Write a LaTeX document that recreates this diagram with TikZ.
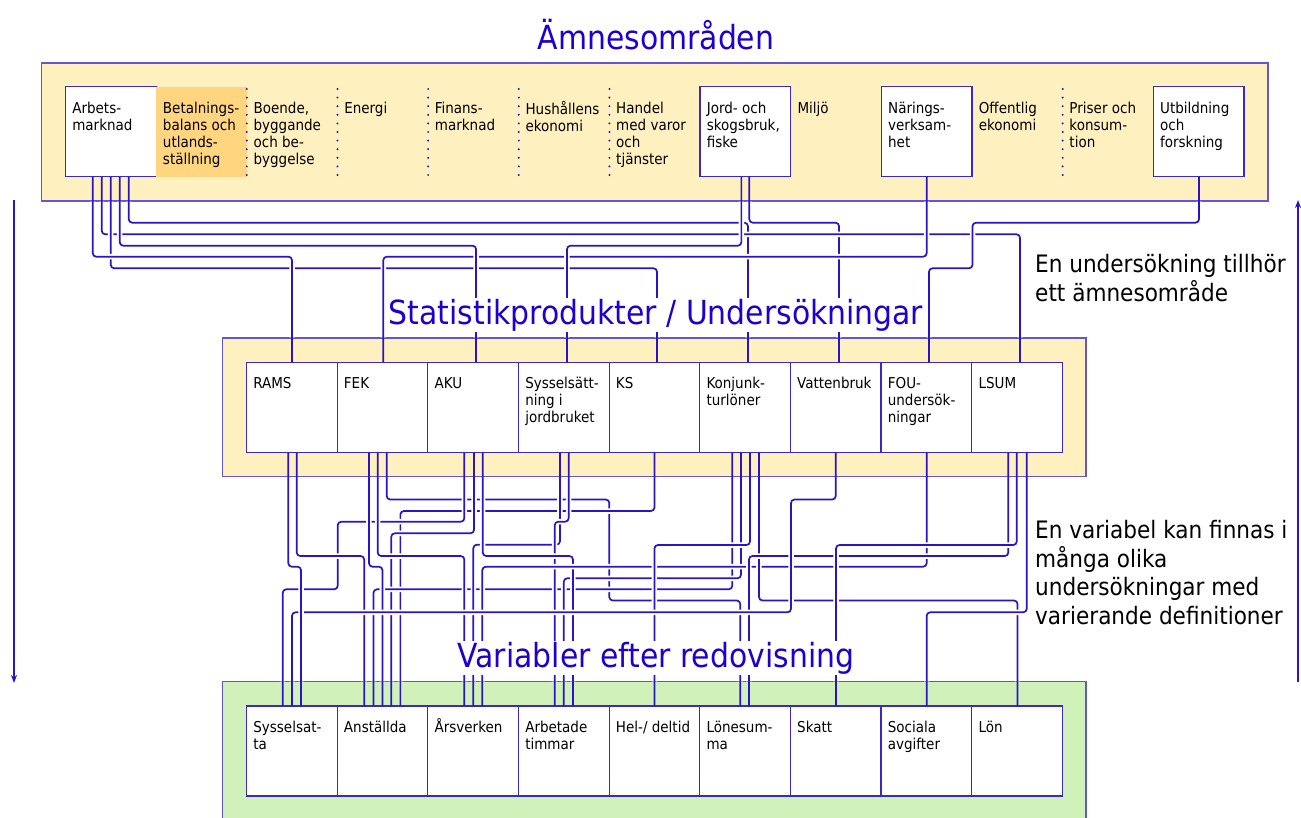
\documentclass[tikz,border=0pt]{standalone}
\usepackage{fontspec}
\setmainfont{DejaVu Sans Condensed}
\usetikzlibrary{arrows.meta}

\definecolor{ink}{HTML}{2A14C6}
\definecolor{titleblue}{HTML}{2000CC}
\definecolor{frame}{HTML}{6454D6}
\definecolor{cellline}{HTML}{3A28CC}
\definecolor{sand}{HTML}{FFF0C0}
\definecolor{amber}{HTML}{FFD580}
\definecolor{mint}{HTML}{D0F1BA}

% text of one cell, set from the top left corner
\newcommand\celltext[1]{\parbox[c][60.8pt][t]{77pt}{\raggedright\hyphenpenalty=10000\exhyphenpenalty=10000\strut#1}}

% a connector: white halo (only in the open gaps between the bands), then the line
\newcommand\wire[1]{%
  \begin{scope}
    \clip (0,201.6) rectangle (1301,337.4) (0,477.3) rectangle (1301,681.4);
    \path[halo] #1;
  \end{scope}
  \path[wire] #1;}

\begin{document}
\begin{tikzpicture}[x=1pt,y=-1pt,
  cell/.style={rectangle, inner sep=0pt, outer sep=0pt, minimum width=90.65pt,
    minimum height=90pt, anchor=north west, font=\fontsize{15}{17}\selectfont},
  boxcell/.style={cell, draw=cellline, line width=1.2pt, fill=white},
  band/.style={draw=frame, line width=1.3pt},
  sep/.style={draw=ink, line width=2.2pt, line cap=round, dash pattern=on 0pt off 8.6pt},
  wire/.style={draw=ink, line width=1.7pt, rounded corners=3.5pt},
  halo/.style={draw=white, line width=5.5pt, rounded corners=3.5pt},
  title/.style={font=\fontsize{33.2}{38}\selectfont, text=titleblue, fill=white, inner xsep=0pt, inner ysep=1pt},
  note/.style={font=\fontsize{24}{28.5}\selectfont, align=left, anchor=north west, inner sep=0pt},
  flow/.style={draw=ink, line width=1.3pt, -{Stealth[length=8pt,width=6pt]}}]

\useasboundingbox (0,0) rectangle (1301,817);

% ---- bands ----
\path[band, fill=sand] (41.5,63) rectangle (1268,201);
\path[band, fill=sand] (222.7,338) rectangle (1086,476.7);
\path[band, fill=mint] (222.7,681.7) rectangle (1086,830);

% ---- subject areas ----
\node[boxcell] (arb) at (65.5,86.5) {\celltext{Arbets-\\marknad}};
\node[cell, fill=amber] (bet) at (156.15,86.5) {\celltext{Betalnings-\\balans och\\utlands-\\ställning}};
\node[cell] (boe) at (246.8,86.5) {\celltext{Boende,\\byggande\\och be-\\byggelse}};
\node[cell] (ene) at (337.45,86.5) {\celltext{Energi}};
\node[cell] (fin) at (428.1,86.5) {\celltext{Finans-\\marknad}};
\node[cell] (hus) at (518.75,86.5) {\celltext{Hushållens\\ekonomi}};
\node[cell] (han) at (609.4,86.5) {\celltext{Handel\\med varor\\och\\tjänster}};
\node[boxcell] (jor) at (700.05,86.5) {\celltext{Jord- och\\skogsbruk,\\fiske}};
\node[cell] (mil) at (790.7,86.5) {\celltext{Miljö}};
\node[boxcell] (nar) at (881.35,86.5) {\celltext{Närings-\\verksam-\\het}};
\node[cell] (off) at (972,86.5) {\celltext{Offentlig\\ekonomi}};
\node[cell] (pri) at (1062.65,86.5) {\celltext{Priser och\\konsum-\\tion}};
\node[boxcell] (utb) at (1153.3,86.5) {\celltext{Utbildning\\och\\forskning}};

\foreach \c in {bet,boe,ene,fin,hus,off}
  \path[sep] ([yshift=-2.5pt]\c.north east) -- ([yshift=1pt]\c.south east);

% ---- surveys ----
\node[boxcell] (rams) at (246.5,362.3) {\celltext{RAMS}};
\node[boxcell] (fek)  at (337.15,362.3) {\celltext{FEK}};
\node[boxcell] (aku)  at (427.8,362.3) {\celltext{AKU}};
\node[boxcell] (sysj) at (518.45,362.3) {\celltext{Sysselsätt-\\ning i\\jordbruket}};
\node[boxcell] (ks)   at (609.1,362.3) {\celltext{KS}};
\node[boxcell] (konj) at (699.75,362.3) {\celltext{Konjunk-\\turlöner}};
\node[boxcell] (vatt) at (790.4,362.3) {\celltext{Vattenbruk}};
\node[boxcell] (fou)  at (881.05,362.3) {\celltext{FOU-\\undersök-\\ningar}};
\node[boxcell] (lsum) at (971.7,362.3) {\celltext{LSUM}};

% ---- variables ----
\node[boxcell] (vsys) at (246.5,706) {\celltext{Sysselsat-\\ta}};
\node[boxcell] (vans) at (337.15,706) {\celltext{Anställda}};
\node[boxcell] (vars) at (427.8,706) {\celltext{\smash{Å}rsverken}};
\node[boxcell] (varb) at (518.45,706) {\celltext{Arbetade\\timmar}};
\node[boxcell] (vhel) at (609.1,706) {\celltext{Hel-/ deltid}};
\node[boxcell] (vlsu) at (699.75,706) {\celltext{Lönesum-\\ma}};
\node[boxcell] (vska) at (790.4,706) {\celltext{Skatt}};
\node[boxcell] (vsoc) at (881.05,706) {\celltext{Sociala\\avgifter}};
\node[boxcell] (vlon) at (971.7,706) {\celltext{Lön}};

% ---- ports ----
\coordinate (am1) at ([xshift=-18.1pt]arb.south);
\coordinate (am2) at ([xshift=-9.1pt]arb.south);
\coordinate (am3) at ([xshift=-0.1pt]arb.south);
\coordinate (am4) at ([xshift=8.9pt]arb.south);
\coordinate (am5) at ([xshift=17.9pt]arb.south);
\coordinate (jo1) at ([xshift=-4pt]jor.south);
\coordinate (jo2) at ([xshift=3.9pt]jor.south);
\coordinate (nv)  at (nar.south);
\coordinate (ut)  at ([xshift=0.4pt]utb.south);

\coordinate (tRams) at ([xshift=0.2pt]rams.north);
\coordinate (tFek)  at ([xshift=0.8pt]fek.north);
\coordinate (tAku)  at ([xshift=2.9pt]aku.north);
\coordinate (tSysj) at ([xshift=3.2pt]sysj.north);
\coordinate (tKs)   at ([xshift=2.6pt]ks.north);
\coordinate (tKonj) at ([xshift=2.9pt]konj.north);
\coordinate (tVatt) at ([xshift=3.3pt]vatt.north);
\coordinate (tFou)  at ([xshift=2.6pt]fou.north);
\coordinate (tLsum) at ([xshift=3pt]lsum.north);

\coordinate (mR1) at ([xshift=-3.5pt]rams.south);
\coordinate (mR2) at ([xshift=4.9pt]rams.south);
\coordinate (mF1) at ([xshift=-13.5pt]fek.south);
\coordinate (mF2) at ([xshift=-4.8pt]fek.south);
\coordinate (mF3) at ([xshift=4.2pt]fek.south);
\coordinate (mA1) at ([xshift=-8.8pt]aku.south);
\coordinate (mA2) at ([xshift=0.9pt]aku.south);
\coordinate (mA3) at ([xshift=9.6pt]aku.south);
\coordinate (mS1) at ([xshift=-3.8pt]sysj.south);
\coordinate (mS2) at ([xshift=4.9pt]sysj.south);
\coordinate (mK)  at (ks.south);
\coordinate (mJ1) at ([xshift=-12.8pt]konj.south);
\coordinate (mJ2) at ([xshift=-4.1pt]konj.south);
\coordinate (mJ3) at ([xshift=4.9pt]konj.south);
\coordinate (mJ4) at ([xshift=13.9pt]konj.south);
\coordinate (mV)  at (vatt.south);
\coordinate (mFo) at ([xshift=0.3pt]fou.south);
\coordinate (mL1) at ([xshift=-8.7pt]lsum.south);
\coordinate (mL2) at ([xshift=-0.3pt]lsum.south);
\coordinate (mL3) at ([xshift=9.7pt]lsum.south);

\coordinate (bSys1) at ([xshift=-9.1pt]vsys.north);
\coordinate (bSys2) at ([xshift=0.2pt]vsys.north);
\coordinate (bSys3) at ([xshift=9.2pt]vsys.north);
\coordinate (bAns1) at ([xshift=-18.3pt]vans.north);
\coordinate (bAns2) at ([xshift=-9pt]vans.north);
\coordinate (bAns3) at (vans.north);
\coordinate (bAns4) at ([xshift=8.8pt]vans.north);
\coordinate (bAns5) at ([xshift=17.9pt]vans.north);
\coordinate (bArs1) at ([xshift=-8.8pt]vars.north);
\coordinate (bArs2) at ([xshift=0.2pt]vars.north);
\coordinate (bArs3) at ([xshift=9.2pt]vars.north);
\coordinate (bArb1) at ([xshift=-9.1pt]varb.north);
\coordinate (bArb2) at (varb.north);
\coordinate (bArb3) at ([xshift=9.2pt]varb.north);
\coordinate (bHel)  at (vhel.north);
\coordinate (bLon1) at ([xshift=-4.8pt]vlsu.north);
\coordinate (bLon2) at ([xshift=3.9pt]vlsu.north);
\coordinate (bSka)  at ([xshift=0.3pt]vska.north);
\coordinate (bSoc)  at ([xshift=0.3pt]vsoc.north);
\coordinate (bLoen) at ([xshift=0.5pt]vlon.north);

% ---- subject area -> survey ----
\wire{(am5) -- ++(0,46.2) -| (tKonj)}
\wire{(jo2) -- ++(0,46.2) -| (tVatt)}
\wire{(am2) -- ++(0,57.8) -| (tLsum)}
\wire{(am3) -- ++(0,91.8) -| (tKs)}
\wire{(nv) -- ++(0,80.2) -| (tFek)}
\wire{(jo1) -- ++(0,69.2) -| (tSysj)}
\wire{(am4) -- ++(0,69.2) -| (tAku)}
\wire{(am1) -- ++(0,80.2) -| (tRams)}
\wire{(ut) |- (972.5,222.7) -- (972.5,268.3) -| (tFou)}

% ---- survey -> variable ----
\wire{(mF3) |- (609.3,499.5) -- (609.3,600.5) -| (bLon1)}
\wire{(mK) -- ++(0,58.7) -| (bAns5)}
\wire{(mA1) |- (337.7,521.7) -- (337.7,589.3) -| (bSys1)}
\wire{(mA2) -- ++(0,81) -| (bAns4)}
\wire{(mJ1) -- ++(0,137) -| (bAns2)}
\wire{(mJ2) -- ++(0,126) -| (bArb2)}
\wire{(mF1) -- ++(0,114.4) -| (bAns3)}
\wire{(mF2) -- ++(0,103.7) -| (bArs1)}
\wire{(mR2) -- ++(0,103.7) -| (bAns1)}
\wire{(mS1) -- ++(0,92.4) -| (bArs2)}
\wire{(mS2) -- ++(0,69.4) -| (bArb1)}
\wire{(mA3) -- ++(0,103.7) -| (bArb3)}
\wire{(mFo) -- ++(0,114.4) -| (bArs3)}
\wire{(mJ3) -- ++(0,92.7) -| (bHel)}
\wire{(mJ4) -- ++(0,148.2) -| (bLoen)}
\wire{(mL1) -- ++(0,103.7) -| (bLon2)}
\wire{(mL2) -- ++(0,92.7) -| (bSka)}
\wire{(mL3) -- ++(0,160) -| (bSoc)}
\wire{(mV) |- (791,499.5) -- (791,612.3) -| (bSys2)}
\wire{(mR1) -- ++(0,114.4) -| (bSys3)}

% ---- titles ----
\node[title, anchor=base] (tAmne) at (656,49.5) {Ämnesområden};
\node[title, anchor=base] (tStat) at (656,324) {Statistikprodukter / Undersökningar};
\node[title, anchor=base] (tVar)  at (656,667) {Variabler efter redovisning};

% ---- side notes ----
\node[note] (nA) at (1035,254.5) {En undersökning tillhör\\ett ämnesområde};
\node[note] (nB) at (1035,520.5) {En variabel kan finnas i\\många olika\\undersökningar med\\varierande definitioner};

% ---- direction arrows ----
\coordinate (lTop) at (14,200);
\coordinate (lBot) at (14,683);
\coordinate (rBot) at (1298,682);
\coordinate (rTop) at (1298,200);
\path[flow] (lTop) -- (lBot);
\path[flow] (rBot) -- (rTop);
\end{tikzpicture}
\end{document}
